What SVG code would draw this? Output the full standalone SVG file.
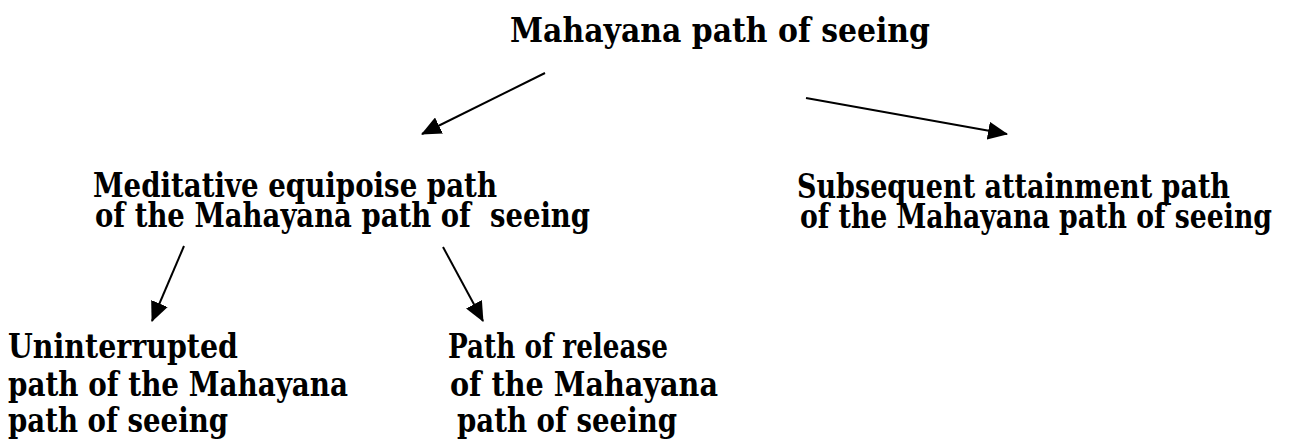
<svg xmlns="http://www.w3.org/2000/svg" width="1300" height="443" viewBox="0 0 1300 443">
  <style>
    .lbl { font-family: "DejaVu Serif", "Liberation Serif", serif; font-weight: bold; font-size: 33px; fill: #000; white-space: pre; }
    .edge { stroke: #000; stroke-width: 2; fill: none; marker-end: url(#head); }
  </style>
  <defs>
    <marker id="head" viewBox="0 0 20 18" refX="19" refY="9" markerWidth="20" markerHeight="18" markerUnits="userSpaceOnUse" orient="auto">
      <path d="M0,0 L20,9 L0,18 Z" fill="#000"/>
    </marker>
  </defs>
  <rect width="1300" height="443" fill="#fff"/>

  <g id="root">
    <text class="lbl" x="510" y="42" textLength="420" lengthAdjust="spacingAndGlyphs">Mahayana path of seeing</text>
  </g>

  <g id="equipoise">
    <text class="lbl">
      <tspan x="93" y="197" textLength="404" lengthAdjust="spacingAndGlyphs">Meditative equipoise path</tspan>
      <tspan x="95" y="227" textLength="495" lengthAdjust="spacingAndGlyphs">of the Mahayana path of  seeing</tspan>
    </text>
  </g>

  <g id="subsequent">
    <text class="lbl">
      <tspan x="797" y="198" textLength="433" lengthAdjust="spacingAndGlyphs">Subsequent attainment path</tspan>
      <tspan x="800" y="228" textLength="472" lengthAdjust="spacingAndGlyphs">of the Mahayana path of seeing</tspan>
    </text>
  </g>

  <g id="uninterrupted">
    <text class="lbl">
      <tspan x="8" y="358" textLength="230" lengthAdjust="spacingAndGlyphs">Uninterrupted</tspan>
      <tspan x="8" y="396" textLength="340" lengthAdjust="spacingAndGlyphs">path of the Mahayana</tspan>
      <tspan x="8" y="432" textLength="220" lengthAdjust="spacingAndGlyphs">path of seeing</tspan>
    </text>
  </g>

  <g id="release">
    <text class="lbl">
      <tspan x="448" y="358" textLength="220" lengthAdjust="spacingAndGlyphs">Path of release</tspan>
      <tspan x="450" y="396" textLength="268" lengthAdjust="spacingAndGlyphs">of the Mahayana</tspan>
      <tspan x="457" y="432" textLength="220" lengthAdjust="spacingAndGlyphs">path of seeing</tspan>
    </text>
  </g>

  <g id="connectors">
    <line class="edge" x1="545" y1="73" x2="422" y2="134"/>
    <line class="edge" x1="806" y1="98" x2="1007" y2="134"/>
    <line class="edge" x1="184" y1="246" x2="152" y2="321"/>
    <line class="edge" x1="443" y1="247" x2="483" y2="321"/>
  </g>
</svg>
